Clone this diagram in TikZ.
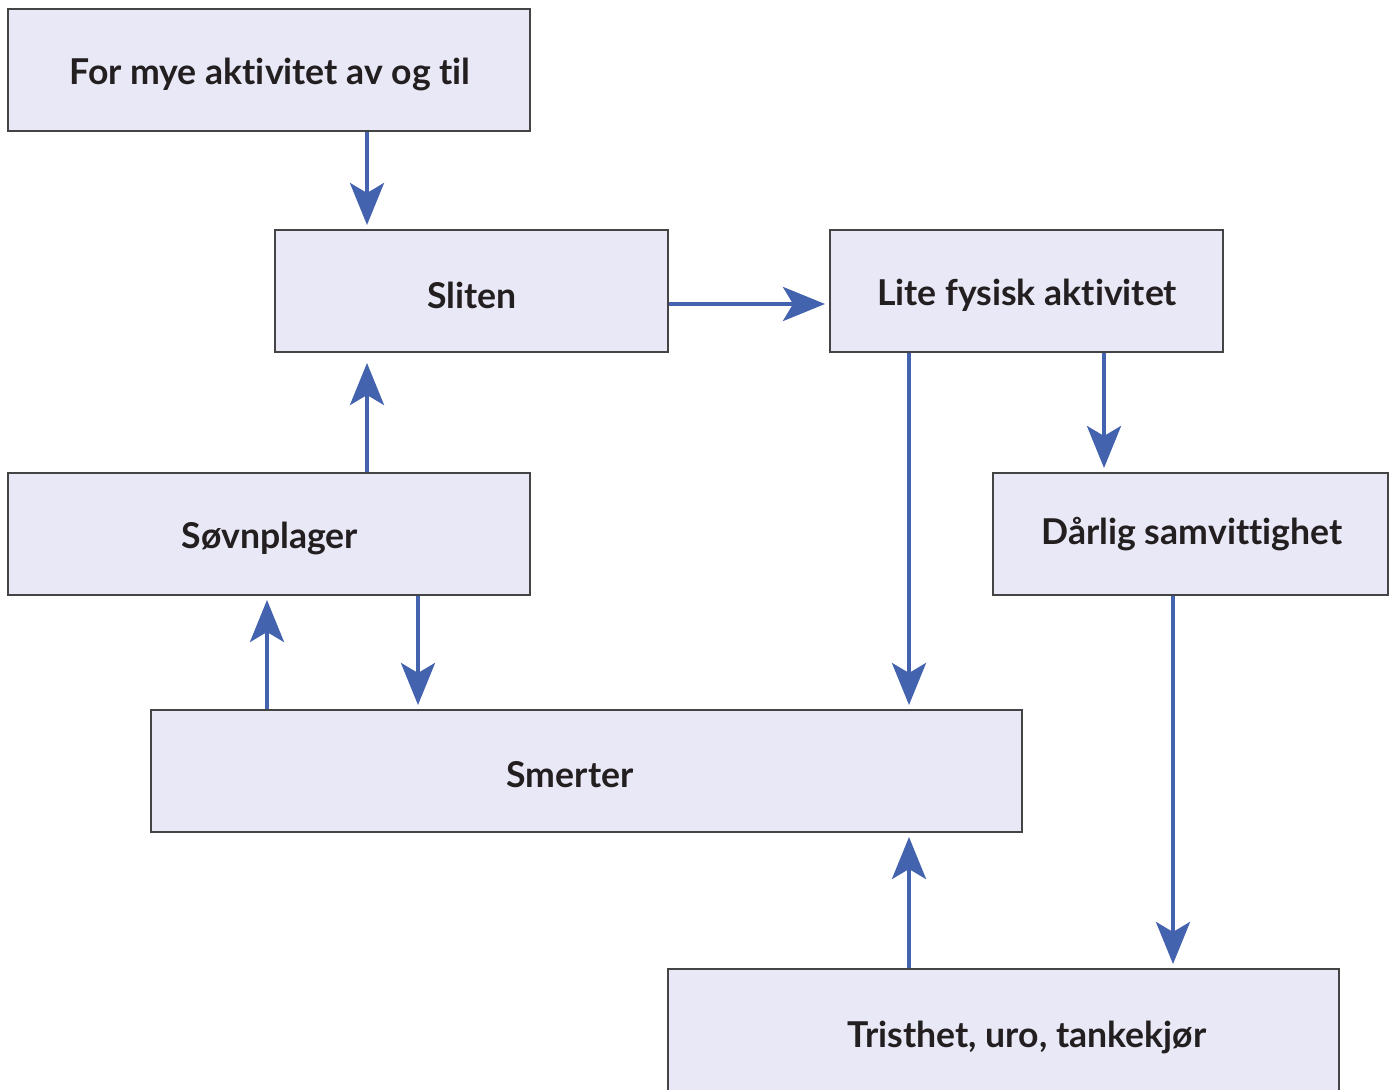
\documentclass[tikz,border=0pt]{standalone}
\usepackage{fontspec}
\setmainfont{Lato}[Ligatures=NoCommon]
\usetikzlibrary{arrows.meta}
\definecolor{boxfill}{HTML}{E8E8F6}
\definecolor{boxline}{HTML}{444444}
\definecolor{arrblue}{HTML}{4463AE}
\definecolor{txt}{HTML}{231F20}
\begin{document}
\begin{tikzpicture}[x=0.5pt,y=-0.5pt,
  lbl/.style={font=\fontsize{17.8}{20}\selectfont\bfseries,text=txt},
  box/.style={lbl,draw=boxline,line width=1pt,fill=boxfill,inner sep=0pt,text depth=0pt},
  arr/.style={draw=arrblue,line width=2pt,-{Stealth[length=21pt,width=17pt,inset=5pt]},shorten >=2pt}]
\useasboundingbox (0,0) rectangle (1396,1090);
\fill[white] (0,0) rectangle (1396,1090);
\node[box,minimum width=261pt,minimum height=61pt] (fmye) at (269,70) {};
\node[lbl] (fmyetext) at (270,74) {For mye aktivitet av og til};
\node[box,minimum width=196.5pt,minimum height=61pt] (sliten) at (471.5,291) {};
\node[lbl] (slitentext) at (472,295) {Sliten};
\node[box,minimum width=196.5pt,minimum height=61pt] (lite) at (1026.5,291) {};
\node[lbl] (litetext) at (1027,295) {Lite fysisk aktivitet};
\node[box,minimum width=261pt,minimum height=61pt] (sovn) at (269,534) {};
\node[lbl] (sovntext) at (270,538) {Søvnplager};
\node[box,minimum width=197.5pt,minimum height=61pt] (darlig) at (1190.5,534) {};
\node[lbl] (darligtext) at (1192,534) {Dårlig samvittighet};
\node[box,minimum width=435.5pt,minimum height=61pt] (smerter) at (586.5,771) {};
\node[lbl] (smertertext) at (570,775) {Smerter};
\node[box,minimum width=335.5pt,minimum height=70pt] (trist) at (1003.5,1039) {};
\node[lbl] (tristtext) at (1027,1037) {Tristhet, uro, tankekjør};
\draw[arr] (367,0 |- fmye.south) -- (367,0 |- sliten.north);
\draw[arr] (sliten.east |- 0,304) -- (lite.west |- 0,304);
\draw[arr,shorten >=5pt] (367,0 |- sovn.north) -- (367,0 |- sliten.south);
\draw[arr] (909,0 |- lite.south) -- (909,0 |- smerter.north);
\draw[arr] (1104,0 |- lite.south) -- (1104,0 |- darlig.north);
\draw[arr] (267,0 |- smerter.north) -- (267,0 |- sovn.south);
\draw[arr] (418,0 |- sovn.south) -- (418,0 |- smerter.north);
\draw[arr] (1173,0 |- darlig.south) -- (1173,0 |- trist.north);
\draw[arr] (909,0 |- trist.north) -- (909,0 |- smerter.south);
\end{tikzpicture}
\end{document}
